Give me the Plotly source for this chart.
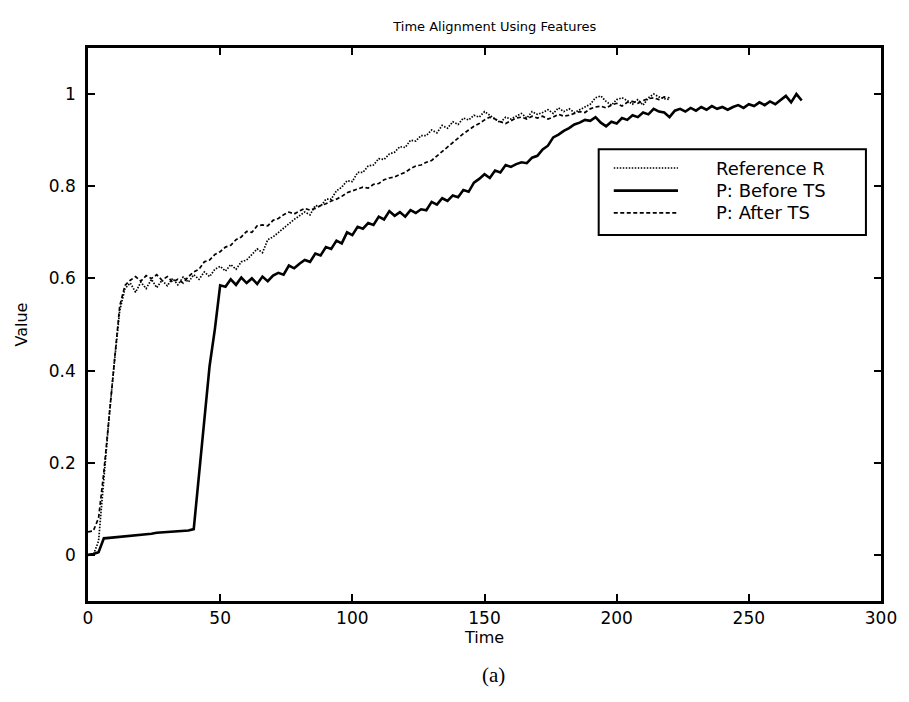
import plotly.graph_objects as go

# Reference R, sampled every 2 time units from t = 0
ref_r = [
    0.000, 0.000, 0.030, 0.170, 0.300, 0.420, 0.530, 0.578,                # t 0-14
    0.590, 0.570, 0.592, 0.578, 0.598, 0.580, 0.596, 0.584, 0.600, 0.586,  # t 16-34
    0.603, 0.592, 0.608, 0.598, 0.614, 0.604, 0.620, 0.626, 0.616, 0.630,  # t 36-54
    0.620, 0.636, 0.640, 0.652, 0.664, 0.656, 0.684, 0.690, 0.700, 0.708,  # t 56-74
    0.718, 0.728, 0.736, 0.744, 0.738, 0.758, 0.756, 0.772, 0.772, 0.790,  # t 76-94
    0.798, 0.812, 0.810, 0.830, 0.830, 0.844, 0.846, 0.860, 0.858, 0.870,  # t 96-114
    0.874, 0.886, 0.884, 0.900, 0.898, 0.910, 0.910, 0.922, 0.916, 0.932,  # t 116-134
    0.926, 0.940, 0.934, 0.948, 0.944, 0.954, 0.950, 0.962, 0.954, 0.946,  # t 136-154
    0.938, 0.950, 0.946, 0.952, 0.958, 0.948, 0.962, 0.956, 0.960, 0.966,  # t 156-174
    0.958, 0.970, 0.962, 0.968, 0.960, 0.966, 0.972, 0.978, 0.992, 0.996,  # t 176-194
    0.984, 0.976, 0.988, 0.992, 0.986, 0.978, 0.988, 0.976, 0.992, 1.000,  # t 196-214
    0.994, 0.990, 0.988,                                                   # t 216-220
]

# P before time scaling, sampled every 2 time units from t = 0
p_before = [
    0.000, 0.002, 0.006, 0.036, 0.037, 0.038, 0.039, 0.040, 0.041, 0.042,  # t 0-18
    0.043, 0.044, 0.046, 0.048, 0.049, 0.050, 0.051, 0.052, 0.053, 0.053,  # t 20-38
    0.056, 0.175, 0.290, 0.410, 0.490, 0.585, 0.582, 0.598, 0.586, 0.602,  # t 40-58
    0.590, 0.600, 0.588, 0.604, 0.594, 0.606, 0.612, 0.608, 0.628, 0.622,  # t 60-78
    0.632, 0.640, 0.636, 0.654, 0.650, 0.668, 0.664, 0.682, 0.676, 0.700,  # t 80-98
    0.694, 0.712, 0.708, 0.720, 0.716, 0.734, 0.728, 0.746, 0.736, 0.744,  # t 100-118
    0.734, 0.748, 0.742, 0.750, 0.748, 0.766, 0.760, 0.774, 0.768, 0.780,  # t 120-138
    0.776, 0.792, 0.788, 0.808, 0.816, 0.826, 0.818, 0.834, 0.830, 0.846,  # t 140-158
    0.842, 0.848, 0.852, 0.850, 0.862, 0.866, 0.880, 0.888, 0.906, 0.912,  # t 160-178
    0.920, 0.926, 0.934, 0.938, 0.944, 0.942, 0.950, 0.938, 0.930, 0.940,  # t 180-198
    0.936, 0.948, 0.944, 0.954, 0.950, 0.960, 0.956, 0.968, 0.962, 0.960,  # t 200-218
    0.950, 0.964, 0.968, 0.962, 0.970, 0.964, 0.972, 0.966, 0.974, 0.968,  # t 220-238
    0.972, 0.966, 0.972, 0.976, 0.970, 0.978, 0.974, 0.982, 0.976, 0.984,  # t 240-258
    0.978, 0.988, 0.996, 0.982, 1.000, 0.986,                              # t 260-270
]

# P after time scaling, sampled every 2 time units from t = 0
p_after = [
    0.050, 0.052, 0.080, 0.180, 0.300, 0.420, 0.540, 0.585,                # t 0-14
    0.596, 0.604, 0.594, 0.606, 0.600, 0.608, 0.596, 0.604, 0.592, 0.598,  # t 16-34
    0.590, 0.604, 0.614, 0.620, 0.636, 0.640, 0.652, 0.658, 0.668, 0.672,  # t 36-54
    0.684, 0.690, 0.702, 0.700, 0.714, 0.716, 0.714, 0.726, 0.730, 0.738,  # t 56-74
    0.744, 0.740, 0.746, 0.752, 0.748, 0.752, 0.758, 0.762, 0.768, 0.772,  # t 76-94
    0.778, 0.786, 0.790, 0.794, 0.798, 0.796, 0.804, 0.806, 0.814, 0.818,  # t 96-114
    0.820, 0.826, 0.830, 0.838, 0.844, 0.846, 0.852, 0.856, 0.866, 0.876,  # t 116-134
    0.884, 0.896, 0.904, 0.914, 0.922, 0.930, 0.936, 0.944, 0.950, 0.946,  # t 136-154
    0.940, 0.936, 0.942, 0.948, 0.950, 0.946, 0.952, 0.948, 0.952, 0.946,  # t 156-174
    0.950, 0.956, 0.952, 0.954, 0.958, 0.962, 0.960, 0.968, 0.972, 0.974,  # t 176-194
    0.970, 0.976, 0.980, 0.974, 0.982, 0.984, 0.980, 0.986, 0.990, 0.992,  # t 196-214
    0.988, 0.994, 0.992,                                                   # t 216-220
]

STEP = 2
t_ref = [STEP * i for i in range(len(ref_r))]
t_before = [STEP * i for i in range(len(p_before))]
t_after = [STEP * i for i in range(len(p_after))]

x_ticks = [0, 50, 100, 150, 200, 250, 300]
y_ticks = [0, 0.2, 0.4, 0.6, 0.8, 1]

SANS = "'DejaVu Sans', Verdana, sans-serif"
SERIF = "'Times New Roman', 'Liberation Serif', serif"

series = [
    ("Reference R", t_ref, ref_r, dict(color="black", width=1.7, dash="1.5px,1.5px")),
    ("P: Before TS", t_before, p_before, dict(color="black", width=2.6)),
    ("P: After TS", t_after, p_after, dict(color="black", width=1.7, dash="4px,2.5px")),
]

fig = go.Figure()
for name, t, v, style in series:
    fig.add_trace(go.Scatter(x=t, y=v, mode="lines", name=name, line=style,
                             showlegend=False))

# Boxed legend: sample line on the left, label on the right
LEG_X0, LEG_X1 = 0.644, 0.981
LEG_Y0, LEG_Y1 = 0.662, 0.817
SAMPLE_X0, SAMPLE_X1 = 0.663, 0.744
LABEL_X = 0.790
ROW_Y = [0.783, 0.742, 0.702]

shapes = [dict(type="rect", xref="paper", yref="paper",
               x0=LEG_X0, x1=LEG_X1, y0=LEG_Y0, y1=LEG_Y1,
               line=dict(color="black", width=2), fillcolor="white", layer="above")]
annotations = []
for (name, _, _, style), ry in zip(series, ROW_Y):
    shapes.append(dict(type="line", xref="paper", yref="paper",
                       x0=SAMPLE_X0, x1=SAMPLE_X1, y0=ry, y1=ry,
                       line=style, layer="above"))
    annotations.append(dict(text=name, x=LABEL_X, y=ry, xref="paper", yref="paper",
                            xanchor="left", yanchor="middle", showarrow=False,
                            font=dict(family=SANS, size=18, color="black")))

annotations.append(dict(
    text="(a)", x=0.511, y=-0.134, xref="paper", yref="paper",
    xanchor="center", yanchor="middle", showarrow=False,
    font=dict(family=SERIF, size=21, color="black"),
))

axis_common = dict(
    showline=True, linecolor="black", linewidth=2.5, mirror="ticks",
    ticks="inside", ticklen=7, tickwidth=2, tickcolor="black",
    showgrid=False, zeroline=False,
    tickfont=dict(family=SANS, size=17, color="black"),
)

fig.update_layout(
    width=909, height=702,
    margin=dict(l=88, r=23, t=48, b=101),
    paper_bgcolor="white", plot_bgcolor="white",
    title=dict(
        text="Time Alignment Using Features", xref="paper",
        x=0.513, xanchor="center", y=0.962, yanchor="middle",
        font=dict(family=SANS, size=13, color="black"),
    ),
    xaxis=dict(
        range=[0, 300], tickvals=x_ticks,
        title=dict(text="Time", standoff=2,
                   font=dict(family=SANS, size=16, color="black")),
        **axis_common,
    ),
    yaxis=dict(
        range=[-0.1, 1.1], tickvals=y_ticks, ticklabelstandoff=6,
        title=dict(text="Value", standoff=18,
                   font=dict(family=SANS, size=16, color="black")),
        **axis_common,
    ),
    shapes=shapes,
    annotations=annotations,
)

fig.write_html("out.html")
